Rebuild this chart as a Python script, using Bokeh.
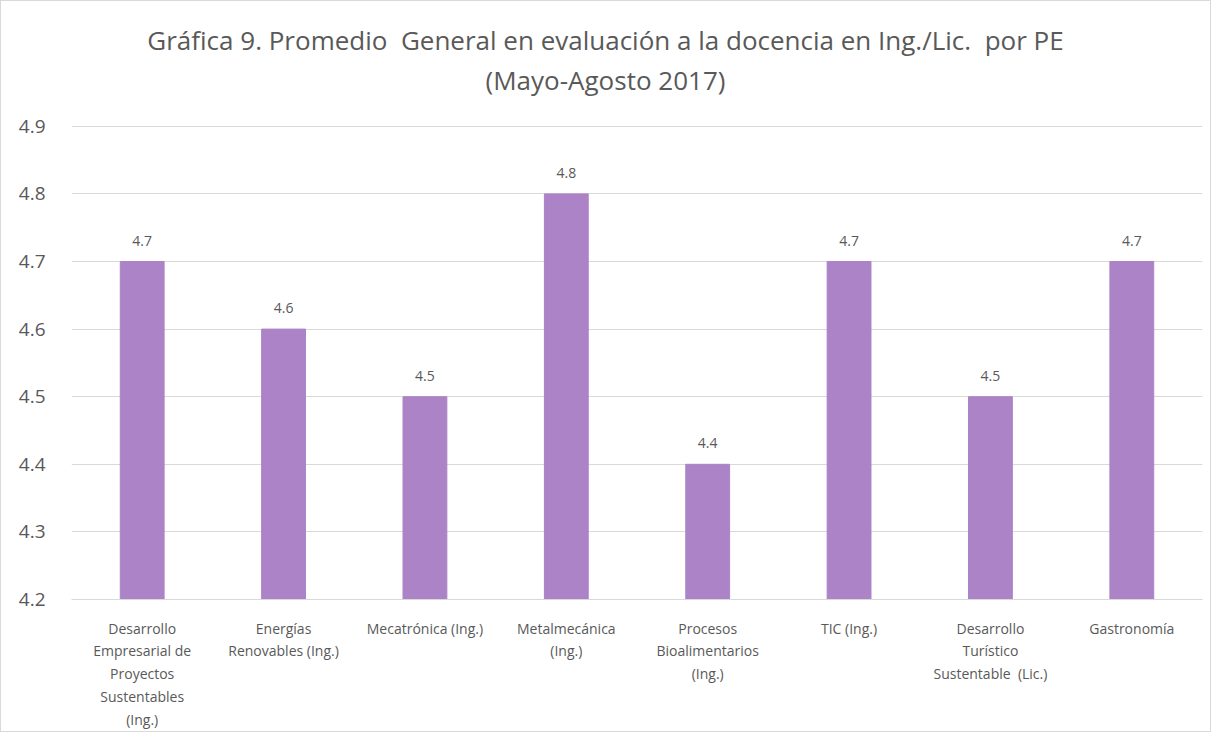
from bokeh.plotting import figure
from bokeh.models import Range1d, ColumnDataSource, Div
from bokeh.layouts import column
from bokeh.core.properties import value
from bokeh.embed import file_html
from bokeh.resources import INLINE

categories = [
    "Desarrollo\nEmpresarial de\nProyectos\nSustentables\n(Ing.)",
    "Energías\nRenovables (Ing.)",
    "Mecatrónica (Ing.)",
    "Metalmecánica\n(Ing.)",
    "Procesos\nBioalimentarios\n(Ing.)",
    "TIC (Ing.)",
    "Desarrollo\nTurístico\nSustentable\u00a0 (Lic.)",
    "Gastronomía",
]
values = [4.7, 4.6, 4.5, 4.8, 4.4, 4.7, 4.5, 4.7]
y_ticks = [4.2, 4.3, 4.4, 4.5, 4.6, 4.7, 4.8, 4.9]
title_line1 = "Gráfica 9. Promedio&nbsp; General en evaluación a la docencia en Ing./Lic.&nbsp; por PE"
title_line2 = "(Mayo-Agosto 2017)"

FONT = "Open Sans"
TXT = "#595959"
GRID = "#D9D9D9"
BAR = "#AB83C6"

TITLE_H = 100
div = Div(text=f"{title_line1}<br>{title_line2}", width=1209, height=TITLE_H, margin=0,
          styles={"font-family": "'Open Sans'", "font-size": "26px", "line-height": "40px",
                  "color": TXT, "text-align": "center", "width": "1209px",
                  "padding-top": "19px", "box-sizing": "border-box",
                  "background-color": "white"})

p = figure(x_range=categories, y_range=Range1d(4.2, 4.9012), width=1209, height=630,
           output_backend="svg", toolbar_location=None,
           min_border_left=70, min_border_right=8, min_border_top=24, min_border_bottom=130)
p.outline_line_color = None
p.background_fill_color = "white"
p.border_fill_color = "white"

src = ColumnDataSource(dict(x=categories, top=values, lab=[f"{v:.1f}" for v in values]))
p.vbar(x="x", top="top", bottom=4.2, width=0.31, color=BAR, source=src)
p.text(x="x", y="top", text="lab", source=src, text_align="center", text_baseline="middle",
       y_offset=-21, text_font=value(FONT), text_font_size="14px", text_color=TXT)

p.xgrid.grid_line_color = None
p.ygrid.grid_line_color = GRID
p.ygrid.grid_line_width = 1
p.yaxis.ticker = y_ticks
p.yaxis.axis_line_color = None
p.yaxis.major_tick_line_color = None
p.yaxis.minor_tick_line_color = None
p.yaxis.major_label_text_font = FONT
p.yaxis.major_label_text_font_size = "19px"
p.yaxis.major_label_text_color = TXT
p.yaxis.major_label_standoff = 20

p.xaxis.axis_line_color = GRID
p.xaxis.major_tick_line_color = None
p.xaxis.minor_tick_line_color = None
p.xaxis.major_label_text_font = FONT
p.xaxis.major_label_text_font_size = "14px"
p.xaxis.major_label_text_color = TXT
p.xaxis.major_label_text_line_height = 1.2
p.xaxis.major_label_standoff = 13

layout = column(div, p, spacing=0, styles={"border": "1px solid #D9D9D9", "background-color": "white"})

open("out.html", "w").write(file_html(layout, INLINE))
